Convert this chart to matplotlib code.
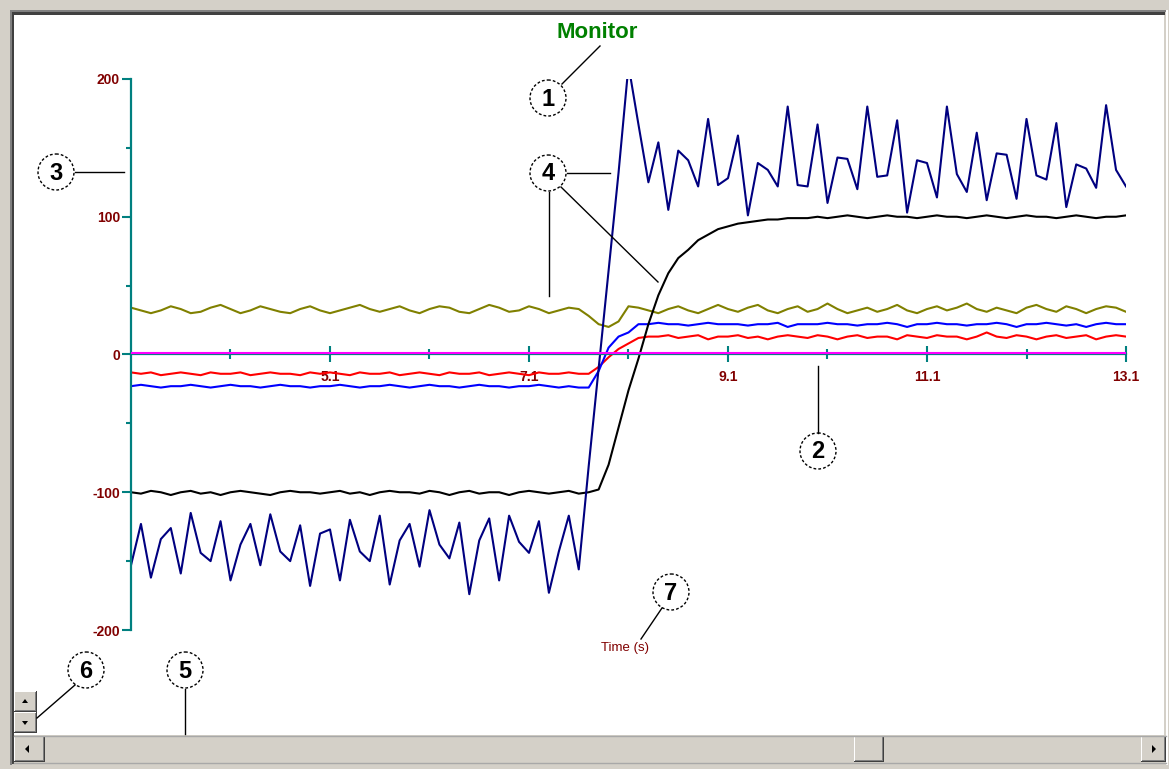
"""Monitor window screenshot: six traces against time, with numbered callouts."""

import matplotlib
matplotlib.use("Agg")
import matplotlib.pyplot as plt
import matplotlib.transforms as mtransforms
from matplotlib.patches import Rectangle, Circle, Polygon
import numpy as np

plt.rcParams["font.family"] = ["Liberation Sans", "DejaVu Sans"]

W, H = 1169, 769

# sample times, 0.1 s steps
TIME = np.round(np.linspace(3.1, 13.1, 101), 1)

NAVY = [
    -153, -123, -162, -134, -126, -159, -115, -144, -150, -121,
    -164, -138, -123, -153, -116, -143, -150, -124, -168, -130,
    -127, -164, -120, -143, -150, -117, -167, -135, -123, -154,
    -113, -138, -148, -122, -174, -135, -119, -164, -117, -136,
    -144, -121, -173, -143, -117, -156, -81, -10, 61, 132,
    210, 167, 125, 154, 105, 148, 141, 122, 171, 123,
    128, 159, 101, 139, 134, 122, 180, 123, 122, 167,
    110, 143, 142, 120, 180, 129, 130, 170, 103, 141,
    139, 114, 180, 131, 118, 161, 112, 146, 145, 113,
    171, 130, 127, 168, 107, 138, 135, 121, 181, 134,
    122,
]
BLACK = [
    -100, -101, -99, -100, -102, -100, -99, -101, -100, -102,
    -100, -99, -100, -101, -102, -100, -99, -100, -100, -101,
    -100, -99, -101, -100, -102, -100, -99, -100, -100, -101,
    -99, -100, -102, -100, -99, -101, -100, -100, -102, -100,
    -99, -100, -101, -100, -99, -101, -100, -98, -80, -53,
    -26, -3, 22, 43, 59, 70, 76, 83, 87, 91,
    93, 95, 96, 97, 98, 98, 99, 99, 99, 100,
    99, 100, 101, 100, 99, 100, 101, 100, 100, 99,
    100, 101, 100, 100, 99, 100, 101, 100, 99, 100,
    101, 100, 100, 99, 100, 101, 100, 99, 100, 100,
    101,
]
OLIVE = [
    34, 32, 30, 32, 35, 33, 30, 31, 34, 36,
    33, 30, 32, 35, 33, 31, 30, 33, 35, 32,
    30, 32, 34, 36, 33, 31, 33, 35, 32, 30,
    33, 35, 34, 31, 30, 33, 36, 34, 31, 32,
    35, 33, 30, 32, 34, 33, 28, 22, 20, 24,
    35, 34, 32, 30, 33, 35, 32, 30, 33, 36,
    33, 31, 34, 36, 32, 30, 33, 35, 31, 33,
    37, 33, 30, 32, 34, 31, 33, 36, 32, 30,
    33, 35, 32, 34, 37, 33, 31, 34, 32, 30,
    34, 36, 33, 31, 35, 33, 30, 33, 35, 34,
    31,
]
BLUE = [
    -23, -22, -23, -24, -23, -23, -22, -23, -24, -23,
    -22, -23, -23, -24, -23, -22, -23, -23, -24, -23,
    -23, -22, -23, -24, -23, -23, -22, -23, -24, -23,
    -22, -23, -23, -24, -23, -22, -23, -23, -24, -23,
    -23, -22, -23, -24, -23, -24, -24, -12, 5, 13,
    16, 22, 22, 23, 22, 22, 21, 22, 23, 22,
    22, 22, 21, 22, 22, 23, 20, 22, 22, 22,
    23, 22, 22, 21, 22, 22, 23, 22, 20, 22,
    22, 23, 22, 22, 21, 22, 22, 23, 22, 20,
    22, 22, 23, 22, 21, 22, 20, 22, 23, 22,
    22,
]
RED = [
    -13, -14, -13, -15, -14, -13, -14, -15, -13, -14,
    -14, -13, -15, -14, -13, -14, -14, -15, -13, -14,
    -13, -14, -15, -13, -14, -14, -13, -15, -14, -13,
    -14, -15, -13, -14, -14, -13, -15, -14, -13, -14,
    -15, -13, -14, -14, -13, -14, -14, -9, -2, 4,
    8, 12, 13, 13, 14, 12, 13, 14, 11, 13,
    13, 14, 12, 13, 11, 13, 14, 13, 12, 14,
    13, 11, 13, 14, 12, 13, 13, 11, 14, 13,
    12, 14, 13, 13, 11, 13, 16, 13, 12, 14,
    13, 11, 13, 14, 12, 13, 14, 11, 13, 14,
    13,
]
MAGENTA = [0] * len(TIME)

X_MAJOR = [5.1, 7.1, 9.1, 11.1, 13.1]
X_LABELS = ["5.1", "7.1", "9.1", "11.1", "13.1"]
X_MINOR = [4.1, 6.1, 8.1, 10.1, 12.1]
Y_MAJOR = [-200, -100, 0, 100, 200]
Y_LABELS = ["-200", "-100", "0", "100", "200"]
Y_MINOR = [-150, -50, 50, 150]

TEAL = "#008080"
DARK_RED = "#800000"
FACE = "#d4d0c8"

fig = plt.figure(figsize=(W / 100, H / 100), dpi=100)
fig.patch.set_facecolor(FACE)


def pixel_axes(z):
    a = fig.add_axes([0, 0, 1, 1], zorder=z)
    a.set_xlim(0, W)
    a.set_ylim(H, 0)
    a.axis("off")
    a.patch.set_alpha(0)
    return a


bg = pixel_axes(0)
ov = pixel_axes(3)

# window frame
bg.add_patch(Rectangle((14, 15), 1150, 721, fc="white", ec="none"))
bg.add_patch(Rectangle((10, 10), 1157, 2, fc="#808080", ec="none"))
bg.add_patch(Rectangle((12, 12), 1153, 3, fc="#404040", ec="none"))
bg.add_patch(Rectangle((10, 10), 2, 755, fc="#808080", ec="none"))
bg.add_patch(Rectangle((12, 12), 2, 752, fc="#404040", ec="none"))
bg.add_patch(Rectangle((1166, 10), 2, 755, fc="white", ec="none"))


def button(x, y, w, h):
    bg.add_patch(Rectangle((x, y), w, h, fc="#404040", ec="none"))
    bg.add_patch(Rectangle((x, y), w - 1, h - 1, fc="white", ec="none"))
    bg.add_patch(Rectangle((x + 1, y + 1), w - 2, h - 2, fc="#808080", ec="none"))
    bg.add_patch(Rectangle((x + 1, y + 1), w - 3, h - 3, fc=FACE, ec="none"))


# horizontal scroll bar
bg.add_patch(Rectangle((14, 735), 1152, 28, fc=FACE, ec="none"))
bg.plot([14, 1166], [735.5, 735.5], color="#a8a8a8", lw=1)
bg.plot([14, 1166], [762.5, 762.5], color="#a8a8a8", lw=1)
button(14, 736, 31, 26)
button(854, 736, 30, 26)
button(1141, 736, 25, 26)
bg.add_patch(Polygon([(25, 749), (29, 745), (29, 753)], fc="black", ec="none"))
bg.add_patch(Polygon([(1156, 749), (1152, 745), (1152, 753)], fc="black", ec="none"))

# small up/down buttons
button(14, 691, 23, 21)
button(14, 712, 23, 21)
bg.add_patch(Polygon([(25, 699), (22, 703), (28, 703)], fc="black", ec="none"))
bg.add_patch(Polygon([(25, 725), (22, 721), (28, 721)], fc="black", ec="none"))

# chart
ax = fig.add_axes([131 / W, (H - 630) / H, 995 / W, 551 / H], zorder=1)
ax.patch.set_alpha(0)
ax.set_xlim(3.1, 13.1)
ax.set_ylim(-200, 200)

ax.plot(TIME, OLIVE, color="#808000", lw=1.5)
ax.plot(TIME, RED, color="#ff0000", lw=1.5)
ax.plot(TIME, BLUE, color="#0000ff", lw=1.5)
ax.plot(TIME, BLACK, color="black", lw=1.5)
ax.plot(TIME, NAVY, color="#000080", lw=1.5)
lift = mtransforms.offset_copy(ax.transData, fig=fig, x=0, y=1.5, units="dots")
ax.plot(TIME, MAGENTA, color="#ff00ff", lw=1.5, transform=lift, zorder=3)

for side in ("top", "right"):
    ax.spines[side].set_visible(False)
ax.spines["bottom"].set_position(("data", 0))
for side in ("bottom", "left"):
    ax.spines[side].set_color(TEAL)
    ax.spines[side].set_linewidth(1.6)

ax.set_xticks(X_MAJOR)
ax.set_xticklabels(X_LABELS, fontweight="bold")
ax.set_xticks(X_MINOR, minor=True)
ax.set_yticks(Y_MAJOR)
ax.set_yticklabels(Y_LABELS, fontweight="bold")
ax.set_yticks(Y_MINOR, minor=True)

ax.tick_params(axis="x", which="major", direction="inout", length=12, width=1.5,
               color=TEAL, labelcolor=DARK_RED, labelsize=10, pad=5)
ax.tick_params(axis="x", which="minor", direction="inout", length=6.7, width=1.5,
               color=TEAL)
ax.tick_params(axis="y", which="major", direction="out", length=6.5, width=1.5,
               color=TEAL, labelcolor=DARK_RED, labelsize=10, pad=1.5)
ax.tick_params(axis="y", which="minor", direction="out", length=3.6, width=1.5,
               color=TEAL)

# texts
ov.text(597, 32, "Monitor", color="#008000", fontsize=16, fontweight="bold",
        ha="center", va="center")
ov.text(625, 648, "Time (s)", color=DARK_RED, fontsize=9.5, ha="center", va="center")

# numbered callouts
CALLOUTS = {1: (548, 98), 2: (818, 451), 3: (56, 172), 4: (548, 173),
            5: (185, 670), 6: (86, 670), 7: (671, 592)}
LEADERS = [
    ((562, 600), (84, 46)),
    ((818, 818), (433, 366)),
    ((75, 124), (172, 172)),
    ((567, 610), (173, 173)),
    ((549, 549), (192, 296)),
    ((561, 658), (187, 282)),
    ((185, 185), (689, 734)),
    ((75, 37), (685, 718)),
    ((662, 641), (608, 639)),
]
for n, (cx, cy) in CALLOUTS.items():
    ov.add_patch(Circle((cx, cy), 18, fill=False, ec="black", lw=1.0,
                        ls=(0, (2, 1.5))))
    ov.text(cx, cy + 1, str(n), ha="center", va="center", fontsize=17,
            fontweight="bold")
for xs, ys in LEADERS:
    ov.plot(xs, ys, color="black", lw=1.0)

fig.savefig("out.png", dpi=100, facecolor=fig.get_facecolor())
